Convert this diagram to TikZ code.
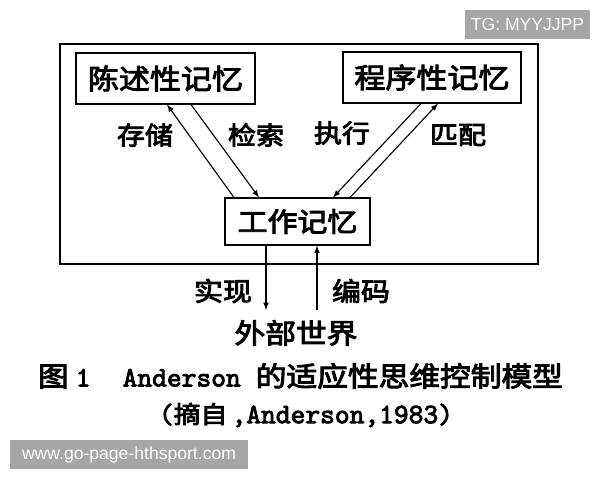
\documentclass[tikz,border=0pt]{standalone}
\usepackage{fontspec}
\newfontfamily\cjk{Noto Sans CJK SC}[FakeStretch=1.12, FakeBold=3.5]
\newfontfamily\mono{lmmono10-regular}[Extension=.otf, FakeBold=3]
\newfontfamily\wmfont{Liberation Sans}
\definecolor{wmgray}{HTML}{A6A6A6}
\begin{document}
\begin{tikzpicture}[x=0.025cm, y=-0.025cm, >=latex,
    mem/.style={draw, line width=1.1pt, inner sep=0pt, font=\cjk\fontsize{19.7}{22}\selectfont},
    op/.style={font=\cjk\fontsize{17.8}{20}\selectfont},
    wm/.style={fill=wmgray, text=white, inner sep=0pt, minimum height=0.725cm, font=\wmfont\fontsize{12.5}{14}\selectfont}]
    \useasboundingbox (0,0) rectangle (600,480);

    \draw[line width=1.1pt] (60,44) rectangle (538,264);

    \node[mem, minimum width=4.475cm, minimum height=1.275cm] (decl) at (165.5,78.5) {陈述性记忆};
    \node[mem, minimum width=4.45cm, minimum height=1.275cm] (proc) at (432,77.5) {程序性记忆};
    \node[mem, minimum width=3.625cm, minimum height=1.175cm, font=\cjk\fontsize{19}{22}\selectfont] (work) at (297.5,221.5) {工作记忆};

    \coordinate (d1) at (167,104.5);
    \coordinate (d2) at (191,104.5);
    \coordinate (p1) at (421,103.5);
    \coordinate (p2) at (438,103.5);
    \coordinate (w1) at (234,197.5);
    \coordinate (w2) at (259,197.5);
    \coordinate (w3) at (333,197.5);
    \coordinate (w4) at (350,197.5);

    \draw[->, line width=0.8pt] (w1) -- (d1);
    \draw[->, line width=0.8pt] (d2) -- (w2);
    \draw[->, line width=0.8pt] (p1) -- (w3);
    \draw[->, line width=0.8pt] (w4) -- (p2);

    \node[op] (store) at (145,135) {存储};
    \node[op] (fetch) at (256,135) {检索};
    \node[op] (exec) at (342,133) {执行};
    \node[op] (match) at (458,135) {匹配};

    \node[font=\cjk\fontsize{19.5}{22}\selectfont] (world) at (296,333) {外部世界};

    \coordinate (r1) at (266,245.5);
    \coordinate (r2) at (266,310);
    \coordinate (e1) at (317,310);
    \coordinate (e2) at (317,245.5);

    \draw[->, line width=0.8pt] (r1) -- (r2);
    \draw[->, line width=0.8pt] (e1) -- (e2);

    \node[op, font=\cjk\fontsize{18.4}{20}\selectfont] (real) at (223,291) {实现};
    \node[op, font=\cjk\fontsize{18.4}{20}\selectfont] (code) at (361,291) {编码};

    \node[font=\fontsize{19.5}{22}\selectfont, inner sep=0pt] (cap) at (300.5,376)
      {{\cjk 图}\hspace{5pt}{\mono\fontsize{20}{22}\selectfont 1}\hspace{22.8pt}{\mono\fontsize{20}{22}\selectfont Anderson}\hspace{10.7pt}{\cjk 的适应性思维控制模型}};
    \node[font=\mono\fontsize{20}{22}\selectfont, inner sep=0pt] (src) at (306,415)
      {({\cjk\fontsize{17}{22}\selectfont 摘自}\hspace{3pt},Anderson,1983)};

    \node[wm, minimum width=3.125cm] (tg) at (527.5,24.5) {TG: MYYJJPP};
    \node[wm, minimum width=5.95cm] (site) at (129,454.5) {www.go-page-hthsport.com};
  \end{tikzpicture}
\end{document}
